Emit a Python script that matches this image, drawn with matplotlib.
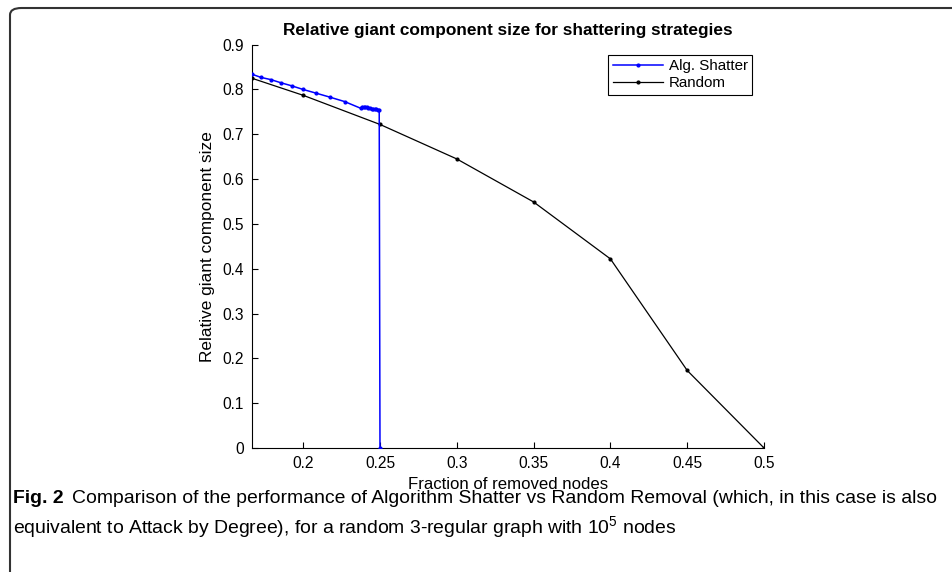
import matplotlib
matplotlib.use('Agg')
import matplotlib.pyplot as plt
from matplotlib.patches import FancyBboxPatch

# data
shatter_x = [0.1667, 0.1725, 0.179, 0.1855, 0.1927, 0.2, 0.2082, 0.2173, 0.227, 0.2375,
             0.2385, 0.2395, 0.2405, 0.2415, 0.2425, 0.2435, 0.2445, 0.2455, 0.2465, 0.2475,
             0.2485, 0.2495, 0.25]
shatter_y = [0.834, 0.827, 0.822, 0.815, 0.808, 0.800, 0.792, 0.783, 0.773, 0.758,
             0.762, 0.761, 0.760, 0.760, 0.759, 0.758, 0.757, 0.757, 0.756, 0.756,
             0.755, 0.754, 0.0]
random_x = [0.1667, 0.2, 0.25, 0.3, 0.35, 0.4, 0.45, 0.5]
random_y = [0.825, 0.787, 0.722, 0.645, 0.549, 0.422, 0.173, 0.0]
xticks = [0.2, 0.25, 0.3, 0.35, 0.4, 0.45, 0.5]
yticks = [0, 0.1, 0.2, 0.3, 0.4, 0.5, 0.6, 0.7, 0.8, 0.9]

plt.rcParams['font.family'] = ['Liberation Sans', 'DejaVu Sans']
plt.rcParams['mathtext.fontset'] = 'custom'
plt.rcParams['mathtext.rm'] = 'Liberation Sans'

fig = plt.figure(figsize=(9.53, 5.72), dpi=100)
ax = fig.add_axes([0.2644, 0.2168, 0.5373, 0.7051])

ax.plot(shatter_x, shatter_y, color='blue', marker='.', markersize=4, linewidth=1.1,
        label='Alg. Shatter', zorder=3)
ax.plot(random_x, random_y, color='black', marker='.', markersize=4, linewidth=0.9,
        label='Random', zorder=2)

ax.set_xlim(1 / 6, 0.5)
ax.set_ylim(0, 0.9)
ax.set_xticks(xticks)
ax.set_xticklabels([('%g' % t) for t in xticks])
ax.set_yticks(yticks)
ax.set_yticklabels([('%g' % t) for t in yticks])
ax.tick_params(direction='in', length=4, width=0.8, labelsize=11.2, pad=6)
ax.spines['top'].set_visible(False)
ax.spines['right'].set_visible(False)
for s in ['left', 'bottom']:
    ax.spines[s].set_linewidth(0.8)

ax.set_title('Relative giant component size for shattering strategies',
             fontsize=12.4, fontweight='bold', pad=7)
ax.set_xlabel('Fraction of removed nodes', fontsize=12.1, labelpad=4)
ax.set_ylabel('Relative giant component size', fontsize=12.4, labelpad=5)

leg = ax.legend(loc='upper right', bbox_to_anchor=(0.977, 0.975), fontsize=10.9,
                fancybox=False, edgecolor='black', framealpha=1, handlelength=3.3,
                borderpad=0.3, labelspacing=0.2, handletextpad=0.4, borderaxespad=0)
leg.get_frame().set_linewidth(0.8)

# caption below the chart, scaled to span the same width as the original
cap_size = 13
fig.canvas.draw()
renderer = fig.canvas.get_renderer()
t_bold = fig.text(0.0136, 0.128, 'Fig. 2', fontsize=cap_size, fontweight='bold', va='center')
t_line1 = fig.text(0.07, 0.128, 'Comparison of the performance of Algorithm Shatter vs Random '
                   'Removal (which, in this case is also', fontsize=cap_size, va='center')
t_line2 = fig.text(0.0136, 0.078, 'equivalent to Attack by Degree), for a random 3-regular '
                   r'graph with 10$^5$ nodes', fontsize=cap_size, va='center')
w_bold = t_bold.get_window_extent(renderer).width
w_line1 = t_line1.get_window_extent(renderer).width
scale = 920 / (w_bold + 8 + w_line1)
for t in (t_bold, t_line1, t_line2):
    t.set_fontsize(cap_size * scale)
w_bold = t_bold.get_window_extent(renderer).width
t_line1.set_x(0.0136 + (w_bold + 8) / fig.bbox.width)

frame = FancyBboxPatch((0.0105, -0.05), 1.05, 1.036,
                       boxstyle='round,pad=0,rounding_size=0.012',
                       transform=fig.transFigure, facecolor='none',
                       edgecolor='#333333', linewidth=1.5, clip_on=False)
fig.patches.append(frame)

fig.savefig('out.png', dpi=100)
